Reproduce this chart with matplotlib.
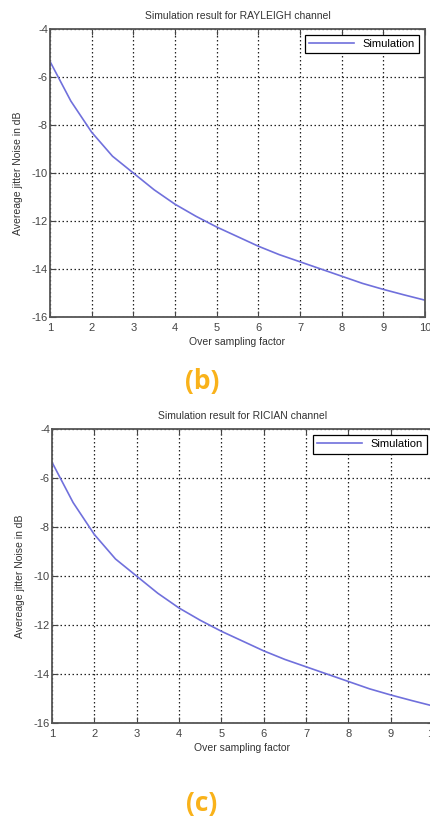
import matplotlib
matplotlib.use("Agg")
import matplotlib.pyplot as plt

plt.rcParams['font.family'] = ['Liberation Sans', 'DejaVu Sans']
plt.rcParams['axes.unicode_minus'] = False

# Over sampling factor
osf = [1, 1.5, 2, 2.5, 3, 3.5, 4, 4.5, 5, 5.5, 6, 6.5, 7, 7.5, 8, 8.5, 9, 9.5, 10]
# Average jitter noise in dB
rayleigh_db = [-5.35, -7.0, -8.3, -9.3, -10.0, -10.7, -11.3, -11.8, -12.25, -12.65,
               -13.05, -13.4, -13.7, -14.0, -14.3, -14.6, -14.85, -15.08, -15.3]
rician_db = [-5.35, -7.0, -8.3, -9.3, -10.0, -10.7, -11.3, -11.8, -12.25, -12.65,
             -13.05, -13.4, -13.7, -14.0, -14.3, -14.6, -14.85, -15.08, -15.3]

titles = ["Simulation result for RAYLEIGH channel", "Simulation result for RICIAN channel"]
panel_labels = ["(b)", "(c)"]

fig = plt.figure(figsize=(4.31, 8.18), dpi=100)
ax1 = fig.add_axes([0.116, 0.6125, 0.870, 0.352])
ax2 = fig.add_axes([0.1206, 0.116, 0.884, 0.3594])


def style(ax, y, title):
    ax.plot(osf, y, color="#7070dc", lw=1.2, label="Simulation")
    ax.set_xlim(1, 10)
    ax.set_ylim(-16, -4)
    ax.set_xticks(range(1, 11))
    ax.set_yticks(range(-16, -3, 2))
    ax.grid(True, color="#222222", linestyle=(0, (1.2, 2)), lw=0.9)
    ax.tick_params(direction="in", top=True, right=True, labelsize=8,
                   colors="#444444", length=4, pad=1.5)
    ax.tick_params(axis="x", pad=4)
    for s in ax.spines.values():
        s.set_color("#555555")
        s.set_linewidth(1.3)
    ax.set_title(title, fontsize=7.5, color="#333333", pad=7)
    ax.set_xlabel("Over sampling factor", fontsize=7.5, color="#333333", labelpad=3)
    ax.set_ylabel("Avereage jitter Noise in dB", fontsize=7.5, color="#333333", labelpad=6)
    leg = ax.legend(loc="upper right", fontsize=8, fancybox=False, framealpha=1,
                    borderaxespad=0.5, handlelength=4, edgecolor="black")
    leg.get_frame().set_linewidth(0.9)


style(ax1, rayleigh_db, titles[0])
style(ax2, rician_db, titles[1])

fig.text(202 / 431, 1 - 382 / 818, panel_labels[0], color="#f9b21a", fontsize=19,
         fontweight="bold", family="Open Sans", ha="center", va="center")
fig.text(202 / 431, 1 - 803 / 818, panel_labels[1], color="#f9b21a", fontsize=19,
         fontweight="bold", family="Open Sans", ha="center", va="center")

fig.savefig("out.png", dpi=100)
